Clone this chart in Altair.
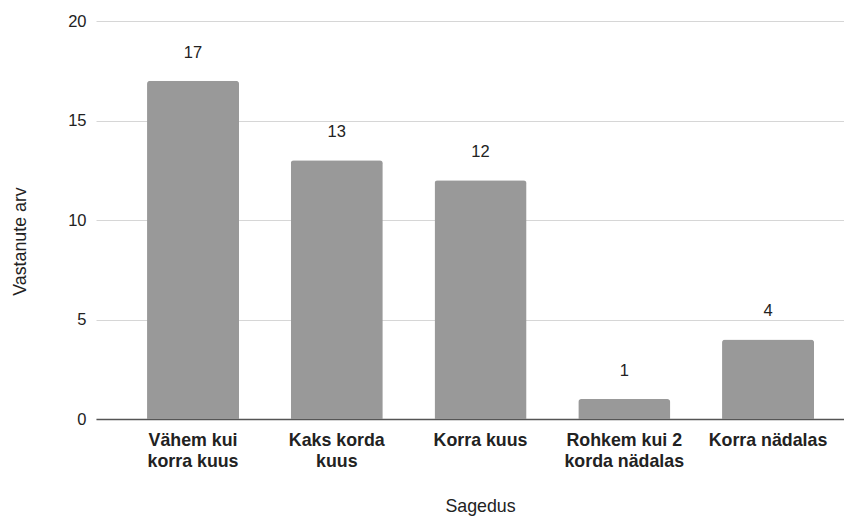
import altair as alt
import pandas as pd

categories = [
    "Vähem kui\nkorra kuus",
    "Kaks korda\nkuus",
    "Korra kuus",
    "Rohkem kui 2\nkorda nädalas",
    "Korra nädalas",
]
values = [17, 13, 12, 1, 4]
y_ticks = [0, 5, 10, 15, 20]

df = pd.DataFrame({"cat": categories, "val": values})

FONT = "Liberation Sans"
TXT = "#222222"

x_enc = alt.X(
    "cat:N",
    sort=None,
    scale=alt.Scale(paddingInner=0.36, paddingOuter=0.2817, align=0.63),
    axis=alt.Axis(
        title="Sagedus",
        labelExpr="split(datum.value, '\\n')",
        labelAngle=0,
        labelFont=FONT,
        labelFontSize=17.8,
        labelFontWeight="bold",
        labelColor=TXT,
        labelLineHeight=21,
        labelPadding=12,
        labelBaseline="top",
        ticks=False,
        domain=True,
        domainColor="#555555",
        domainWidth=1.5,
        grid=False,
        titleFont=FONT,
        titleFontSize=17.8,
        titleFontWeight="normal",
        titleColor=TXT,
        titleX=384,
        titleY=92,
        titleBaseline="alphabetic",
        titleAlign="center",
    ),
)

y_enc = alt.Y(
    "val:Q",
    scale=alt.Scale(domain=[0, 20]),
    axis=alt.Axis(
        title="Vastanute arv",
        values=y_ticks,
        labelFont=FONT,
        labelFontSize=16.5,
        labelColor=TXT,
        labelPadding=10,
        ticks=False,
        domain=False,
        grid=True,
        gridColor="#d6d6d6",
        gridWidth=1,
        titleFont=FONT,
        titleFontSize=17.8,
        titleFontWeight="normal",
        titleColor=TXT,
        titleAngle=-90,
        titleX=-71,
        titleY=220,
        titleBaseline="alphabetic",
        titleAlign="center",
    ),
)

base = alt.Chart(df)

bars = base.mark_bar(
    color="#999999",
    cornerRadiusTopLeft=3,
    cornerRadiusTopRight=3,
).encode(x=x_enc, y=y_enc)

labels = base.mark_text(
    font=FONT,
    fontSize=16.5,
    color=TXT,
    baseline="alphabetic",
    dy=-23,
).encode(x=alt.X("cat:N", sort=None), y=alt.Y("val:Q"), text=alt.Text("val:Q"))

chart = (
    alt.layer(bars, labels)
    .properties(
        width=748,
        height=398,
        autosize="none",
        padding={"left": 88, "top": 13, "right": 0, "bottom": 97},
    )
    .configure_view(stroke=None)
)

chart.save("out.html", embed_options={"renderer": "svg", "actions": False})
